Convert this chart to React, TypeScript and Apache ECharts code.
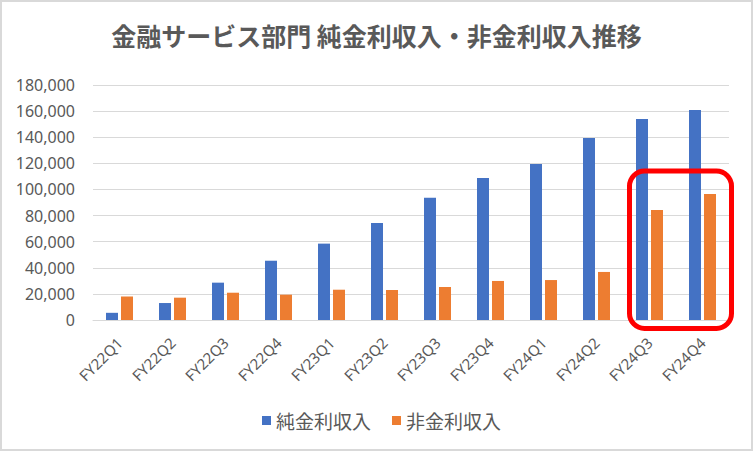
import React, { useEffect, useRef } from "react";
import * as echarts from "echarts";

const titleText = "金融サービス部門 純金利収入・非金利収入推移";
const categories = [
  "FY22Q1", "FY22Q2", "FY22Q3", "FY22Q4",
  "FY23Q1", "FY23Q2", "FY23Q3", "FY23Q4",
  "FY24Q1", "FY24Q2", "FY24Q3", "FY24Q4",
];
const seriesNames = ["純金利収入", "非金利収入"];
const netInterestIncome = [5500, 13000, 28600, 45400, 58500, 74300, 93700, 108800, 119500, 139400, 153900, 160800];
const nonInterestIncome = [18000, 17100, 20900, 19400, 23200, 23000, 25300, 29900, 30600, 36800, 84200, 96500];
const yMin = 0;
const yMax = 180000;
const yInterval = 20000;

const GRAY = "#595959";
const GRID = "#D9D9D9";
const CJK = "'Noto Sans CJK JP', 'Noto Sans', sans-serif";
const NUM = "'Noto Sans', 'Noto Sans CJK JP', sans-serif";

export default function App() {
  const ref = useRef<HTMLDivElement>(null);
  useEffect(() => {
    if (!ref.current) return;
    const chart = echarts.init(ref.current, undefined, { renderer: "svg" });
    chart.setOption({
      animation: false,
      backgroundColor: "#FFFFFF",
      title: {
        text: titleText,
        left: "center",
        top: 22,
        padding: 0,
        textStyle: { fontFamily: CJK, fontSize: 25, fontWeight: "bold", color: GRAY },
      },
      legend: {
        data: seriesNames,
        left: 262,
        top: 411,
        padding: 0,
        itemWidth: 9,
        itemHeight: 9,
        itemGap: 21,
        icon: "rect",
        textStyle: { fontFamily: CJK, fontSize: 19, color: GRAY },
      },
      grid: { left: 93, right: 24, top: 85, bottom: 132, containLabel: false },
      xAxis: {
        type: "category",
        data: categories,
        axisLine: { show: true, lineStyle: { color: GRID, width: 1 } },
        axisTick: { show: false },
        axisLabel: {
          rotate: 45,
          margin: 20,
          fontFamily: NUM,
          fontSize: 15,
          color: GRAY,
          interval: 0,
        },
      },
      yAxis: {
        type: "value",
        min: yMin,
        max: yMax,
        interval: yInterval,
        axisLine: { show: false },
        axisTick: { show: false },
        splitLine: { lineStyle: { color: GRID, width: 1 } },
        axisLabel: {
          margin: 18,
          fontFamily: NUM,
          fontSize: 16,
          color: GRAY,
          formatter: (v: number) => v.toLocaleString("en-US"),
        },
      },
      series: [
        {
          name: seriesNames[0],
          type: "bar",
          data: netInterestIncome,
          barWidth: 12,
          barGap: "25%",
          itemStyle: { color: "#4472C4" },
        },
        {
          name: seriesNames[1],
          type: "bar",
          data: nonInterestIncome,
          barWidth: 12,
          barGap: "25%",
          itemStyle: { color: "#ED7D31" },
        },
      ],
      graphic: [
        {
          type: "rect",
          z: 100,
          silent: true,
          shape: { x: 629.5, y: 171, width: 102, height: 157.5, r: 15 },
          style: { fill: "none", stroke: "#FF0000", lineWidth: 5 },
        },
        {
          type: "rect",
          z: 100,
          silent: true,
          shape: { x: 1, y: 1, width: 751, height: 449 },
          style: { fill: "none", stroke: GRID, lineWidth: 2 },
        },
      ],
    });
    return () => chart.dispose();
  }, []);
  return (
    <div
      ref={ref}
      style={{ position: "fixed", left: 0, top: 0, width: 753, height: 452 }}
    />
  );
}
